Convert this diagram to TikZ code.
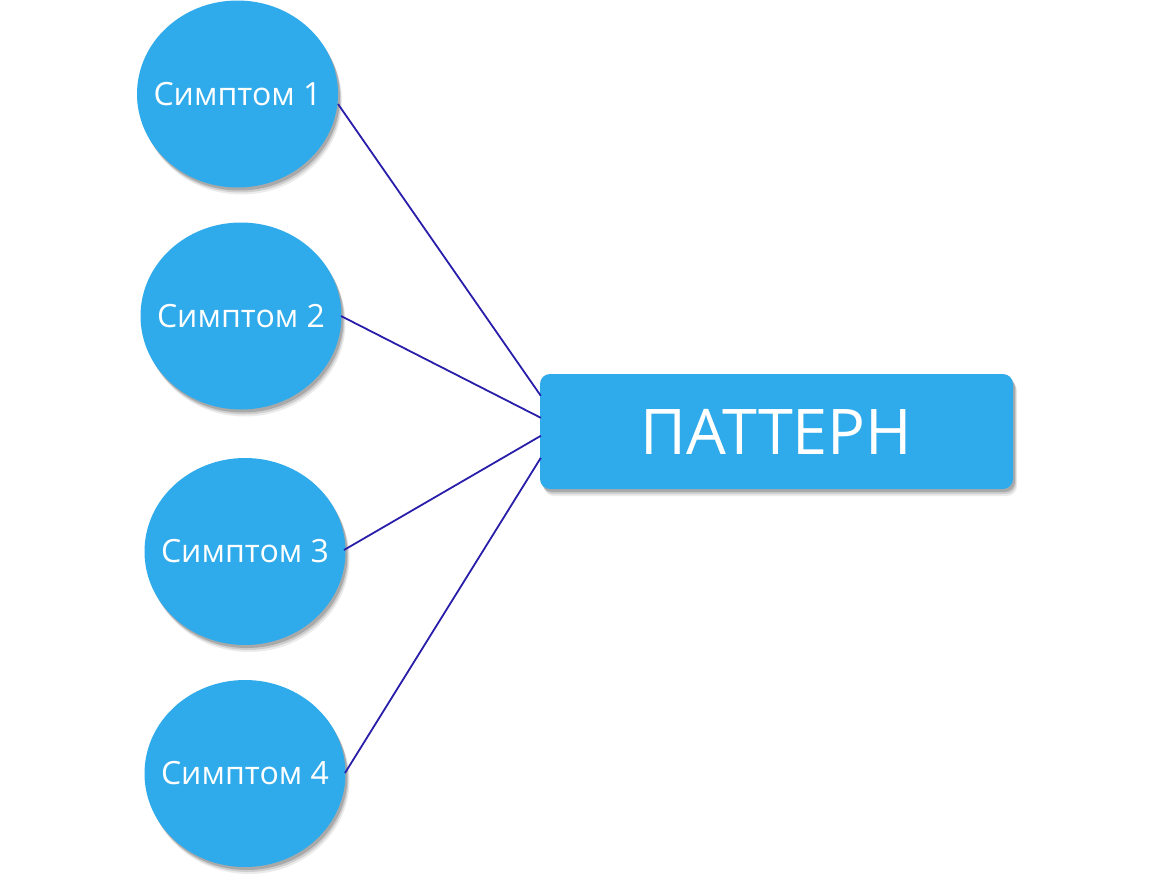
\documentclass[tikz,border=0pt]{standalone}
\usepackage{fontspec}
\setmainfont{Open Sans}
\usetikzlibrary{shapes.geometric,shadows,calc}
\definecolor{bubble}{RGB}{47,171,235}
\definecolor{link}{RGB}{40,30,170}
\tikzset{
  soft/.style={
    drop shadow={shadow xshift=4pt,shadow yshift=-7pt,fill=black,opacity=0.08},
    drop shadow={shadow xshift=3pt,shadow yshift=-5pt,fill=black,opacity=0.12},
    drop shadow={shadow xshift=2pt,shadow yshift=-3pt,fill=black,opacity=0.18}},
  symptom/.style={ellipse,fill=bubble,minimum width=201pt,minimum height=187pt,
    inner sep=0pt,soft},
  slabel/.style={text=white,inner sep=0pt,font=\fontsize{32}{36}\selectfont},
  pattern/.style={rectangle,rounded corners=10pt,fill=bubble,minimum width=473pt,
    minimum height=115pt,inner sep=0pt,soft,text=white,font=\fontsize{63}{70}\selectfont},
  link/.style={draw=link,line width=1.8pt}
}
\begin{document}
\begin{tikzpicture}[x=1pt,y=-1pt]
\useasboundingbox (0,0) rectangle (1170,884);
\node[symptom] (c1) at (237.5,94) {};
\node[symptom] (c2) at (241,316) {};
\node[symptom] (c3) at (245,551.5) {};
\node[symptom] (c4) at (245,773.5) {};
\node[slabel] (c1-t) at (c1.center) {Симптом 1};
\node[slabel] (c2-t) at (c2.center) {Симптом 2};
\node[slabel] (c3-t) at (c3.center) {Симптом 3};
\node[slabel] (c4-t) at (c4.center) {Симптом 4};
\node[pattern] (p) at (776.5,431.5) {ПАТТЕРН};
% connectors
\coordinate (s1) at ($(c1.center)+(100.5,10)$);
\coordinate (s2) at ($(c2.center)+(100,0)$);
\coordinate (s3) at ($(c3.center)+(99,-1.5)$);
\coordinate (s4) at ($(c4.center)+(100,-0.5)$);
\coordinate (e1) at ($(p.north west)+(1,22)$);
\coordinate (e2) at ($(p.north west)+(1,44)$);
\coordinate (e3) at ($(p.north west)+(1,62)$);
\coordinate (e4) at ($(p.north west)+(1,84)$);
\draw[link] (s1) -- (e1);
\draw[link] (s2) -- (e2);
\draw[link] (s3) -- (e3);
\draw[link] (s4) -- (e4);
\end{tikzpicture}
\end{document}
